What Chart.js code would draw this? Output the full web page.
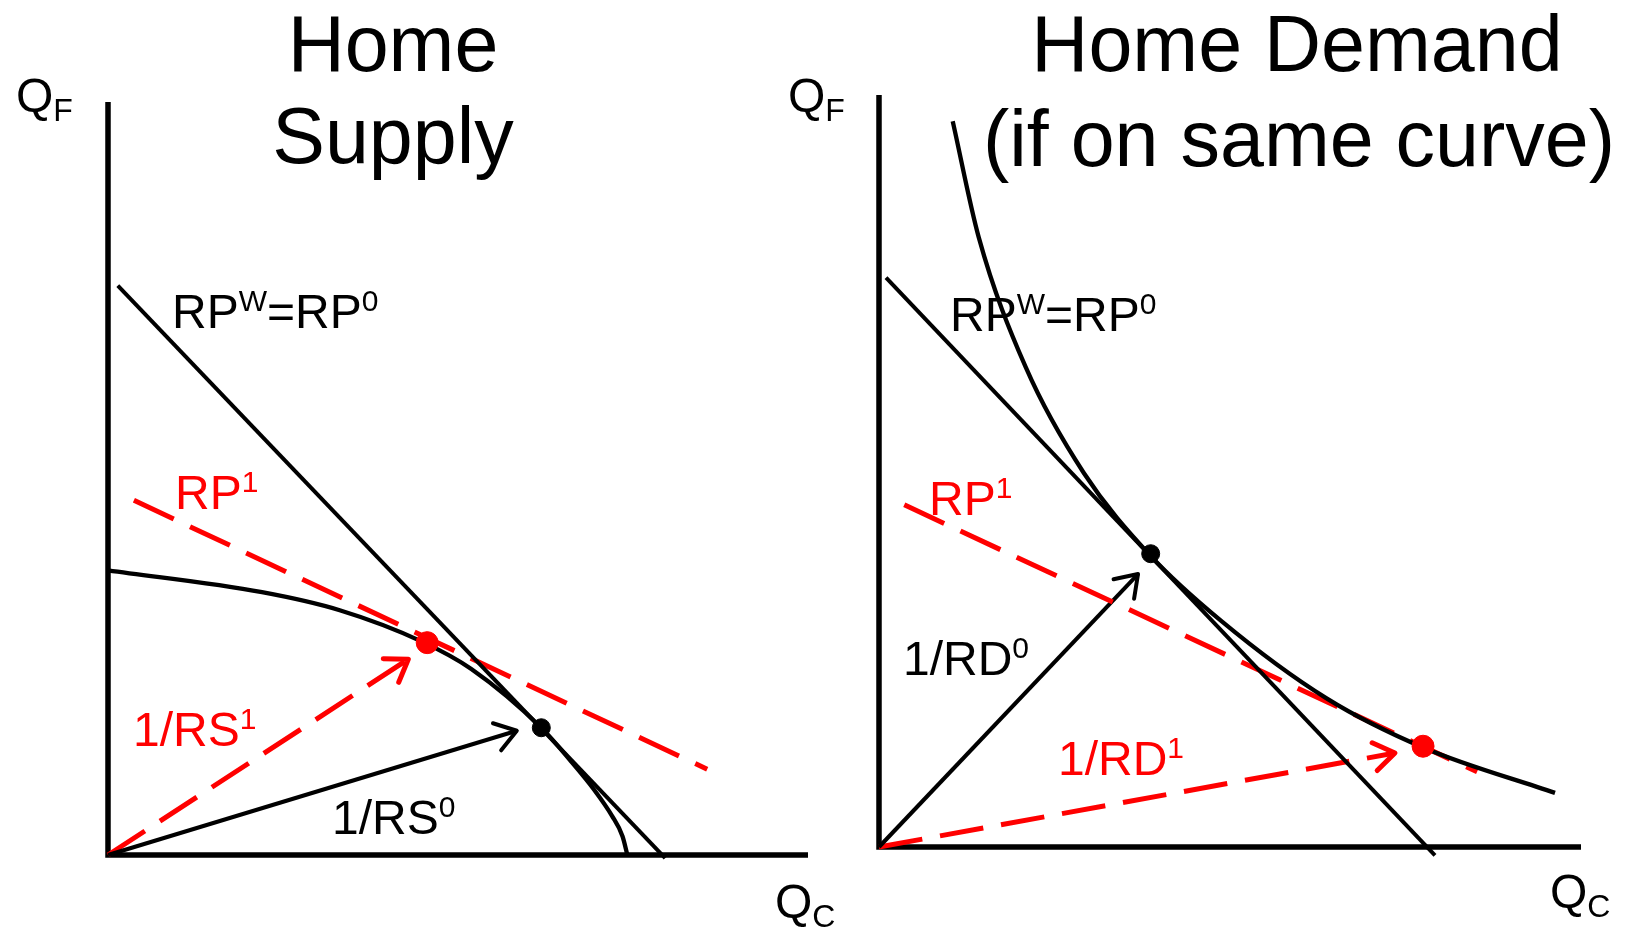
<!DOCTYPE html>
<html>
<head>
<meta charset="utf-8">
<script src="https://cdn.jsdelivr.net/npm/chart.js@4/dist/chart.umd.min.js"></script>
<style>
  html, body { margin: 0; padding: 0; background: #fff; overflow: hidden; }
  #wrap { position: relative; width: 1625px; height: 928px; }
  canvas { position: absolute; left: 0; top: 0; }
</style>
</head>
<body>
<div id="wrap">
  <canvas id="supplyChart" width="1625" height="928"></canvas>
  <canvas id="demandChart" width="1625" height="928"></canvas>
</div>
<script>
// ---- Home Supply panel (Q_C on x, Q_F on y, both 0..100) ----
const ppfQC = [0, 22, 33.1, 44.7, 51.9, 61.9, 66, 69.5, 72, 73.5, 74.2];
const ppfQF = [37.8, 34.9, 32.5, 28.4, 24.7, 16.9, 12.6, 8.6, 5.2, 2.5, 0];
const supplyRPwQC = [1.4, 79.6];
const supplyRPwQF = [75.6, -0.4];
const supplyRP1QC = [3.7, 85.6];
const supplyRP1QF = [47.1, 11.4];
const supplyPoint0 = [61.9, 16.9];   // black dot
const supplyPoint1 = [45.6, 28.2];   // red dot
const rs0Arrow = [58.4, 16.5];
const rs1Arrow = [42.9, 26.0];

// ---- Home Demand panel ----
const icQC = [10.5, 14.2, 20.9, 29.2, 38.6, 48.7, 63.7, 77.6, 96.3];
const icQF = [96.5, 81.1, 63.8, 49.7, 38.8, 30.1, 19.8, 13.2, 7.2];
const demandRPwQC = [1.0, 79.2];
const demandRPwQF = [75.7, -1.1];
const demandRP1QC = [3.6, 85.2];
const demandRP1QF = [45.5, 10.0];
const demandPoint0 = [38.7, 39.0];
const demandPoint1 = [77.5, 13.4];
const rd0Arrow = [36.9, 36.3];
const rd1Arrow = [73.5, 12.5];

const FONT = '"Liberation Sans", Arial, sans-serif';
const RED = '#ff0000';
const DASH = [44, 18];

function pts(xs, ys) { return xs.map((x, i) => ({ x: x, y: ys[i] })); }

function lineSet(xs, ys, color, width, dash, curved) {
  return {
    data: pts(xs, ys), showLine: true, borderColor: color, borderWidth: width,
    borderDash: dash || [], pointRadius: 0, fill: false, clip: false,
    tension: 0, cubicInterpolationMode: curved ? 'monotone' : 'default',
    borderCapStyle: 'butt'
  };
}
function dotSet(p, color, r) {
  return { data: [{ x: p[0], y: p[1] }], pointRadius: r, pointBackgroundColor: color,
           pointBorderColor: color, showLine: false, clip: false };
}
function arrowSet(p, color, width, dash) {
  const s = lineSet([0, p[0]], [0, p[1]], color, width, dash, false);
  s.arrow = true;
  return s;
}

function rich(ctx, x, y, parts, color) {
  ctx.fillStyle = color;
  ctx.textAlign = 'left';
  ctx.textBaseline = 'alphabetic';
  let cx = x;
  for (const [t, size, dy] of parts) {
    ctx.font = size + 'px ' + FONT;
    ctx.fillText(t, cx, y + dy);
    cx += ctx.measureText(t).width;
  }
}

function diagramPlugin(cfg) {
  return {
    id: 'diagram',
    beforeDatasetsDraw(chart) {
      const ctx = chart.ctx, xs = chart.scales.x, ys = chart.scales.y;
      ctx.save();
      ctx.strokeStyle = '#000';
      ctx.lineWidth = 5.5;
      ctx.beginPath();
      ctx.moveTo(xs.getPixelForValue(0), ys.getPixelForValue(100));
      ctx.lineTo(xs.getPixelForValue(0), ys.getPixelForValue(0));
      ctx.lineTo(xs.getPixelForValue(100), ys.getPixelForValue(0));
      ctx.stroke();
      ctx.restore();
    },
    afterDatasetsDraw(chart) {
      const ctx = chart.ctx;
      ctx.save();
      // arrowheads
      chart.data.datasets.forEach((ds, i) => {
        if (!ds.arrow) return;
        const el = chart.getDatasetMeta(i).data;
        const a = el[0], b = el[1];
        const ang = Math.atan2(b.y - a.y, b.x - a.x);
        const len = 25, spread = 0.6;
        ctx.strokeStyle = ds.borderColor;
        ctx.lineWidth = ds.borderWidth;
        ctx.lineCap = 'round';
        ctx.lineJoin = 'round';
        ctx.setLineDash([]);
        ctx.beginPath();
        ctx.moveTo(b.x - len * Math.cos(ang - spread), b.y - len * Math.sin(ang - spread));
        ctx.lineTo(b.x, b.y);
        ctx.lineTo(b.x - len * Math.cos(ang + spread), b.y - len * Math.sin(ang + spread));
        ctx.stroke();
      });
      // titles
      ctx.fillStyle = '#000';
      ctx.textAlign = 'center';
      ctx.textBaseline = 'alphabetic';
      ctx.font = '79px ' + FONT;
      cfg.title.forEach(([t, x, y]) => ctx.fillText(t, x, y));
      // labels
      cfg.labels.forEach(([x, y, parts, color]) => rich(ctx, x, y, parts, color));
      ctx.restore();
    }
  };
}

function makeChart(id, datasets, padding, cfg) {
  return new Chart(document.getElementById(id), {
    type: 'scatter',
    data: { datasets: datasets },
    options: {
      responsive: false,
      animation: false,
      devicePixelRatio: 1,
      layout: { padding: padding },
      scales: {
        x: { type: 'linear', min: 0, max: 100, display: false },
        y: { type: 'linear', min: 0, max: 100, display: false }
      },
      plugins: { legend: { display: false }, tooltip: { enabled: false } }
    },
    plugins: [diagramPlugin(cfg)]
  });
}

const sup = (t) => [t, 30, -17];

makeChart('supplyChart', [
  dotSet(supplyPoint1, RED, 11),
  dotSet(supplyPoint0, '#000', 9),
  lineSet(ppfQC, ppfQF, '#000', 4.3, null, true),
  lineSet(supplyRPwQC, supplyRPwQF, '#000', 4),
  lineSet(supplyRP1QC, supplyRP1QF, RED, 5, DASH),
  arrowSet(rs0Arrow, '#000', 4),
  arrowSet(rs1Arrow, RED, 5, DASH)
], { left: 108, right: 817, top: 102, bottom: 73 }, {
  title: [['Home', 393, 71], ['Supply', 393, 163]],
  labels: [
    [16, 112, [['Q', 48, 0], ['F', 32, 9]], '#000'],
    [775, 918, [['Q', 48, 0], ['C', 32, 9]], '#000'],
    [172, 328, [['RP', 48, 0], sup('W'), ['=RP', 48, 0], sup('0')], '#000'],
    [175, 509, [['RP', 48, 0], sup('1')], RED],
    [133, 746, [['1/RS', 48, 0], sup('1')], RED],
    [332, 834, [['1/RS', 48, 0], sup('0')], '#000']
  ]
});

makeChart('demandChart', [
  dotSet(demandPoint1, RED, 11),
  dotSet(demandPoint0, '#000', 9),
  lineSet(icQC, icQF, '#000', 4.3, null, true),
  lineSet(demandRPwQC, demandRPwQF, '#000', 4),
  lineSet(demandRP1QC, demandRP1QF, RED, 5, DASH),
  arrowSet(rd0Arrow, '#000', 4),
  arrowSet(rd1Arrow, RED, 5, DASH)
], { left: 879, right: 44, top: 95, bottom: 81 }, {
  title: [['Home Demand', 1297, 71], ['(if on same curve)', 1299, 166]],
  labels: [
    [788, 112, [['Q', 48, 0], ['F', 32, 9]], '#000'],
    [1550, 908, [['Q', 48, 0], ['C', 32, 9]], '#000'],
    [950, 331, [['RP', 48, 0], sup('W'), ['=RP', 48, 0], sup('0')], '#000'],
    [929, 515, [['RP', 48, 0], sup('1')], RED],
    [903, 675, [['1/RD', 48, 0], sup('0')], '#000'],
    [1058, 775, [['1/RD', 48, 0], sup('1')], RED]
  ]
});
</script>
</body>
</html>
